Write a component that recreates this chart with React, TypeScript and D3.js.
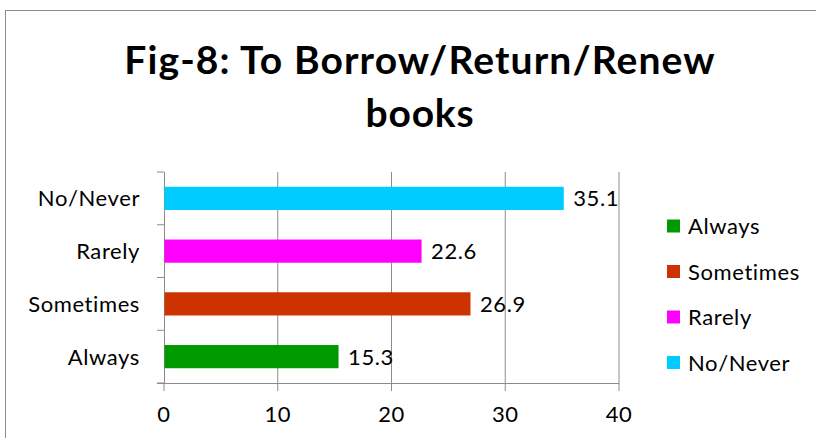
import React from "react";
import * as d3 from "d3";

const categories = ["Always", "Sometimes", "Rarely", "No/Never"];
const values = [15.3, 26.9, 22.6, 35.1];
const colors = ["#009900", "#CC3300", "#FF00FF", "#00CCFF"];
const xTicks = [0, 10, 20, 30, 40];
const titleLines = ["Fig-8: To Borrow/Return/Renew", "books"];

const W = 816;
const H = 438;
const FONT = "Lato, 'Open Sans', sans-serif";

export default function App() {
  const x = d3.scaleLinear().domain([0, 40]).range([164, 619]);
  const y = d3
    .scaleBand<string>()
    .domain([...categories].reverse())
    .range([172, 383])
    .paddingInner(0.56)
    .paddingOuter(0.28);
  const bands = d3
    .scaleBand<string>()
    .domain([...categories].reverse())
    .range([172, 383]);
  const boundaries = [172, ...categories.map((c) => (bands(c) as number) + bands.bandwidth())];
  const labelStyle = { fontVariantLigatures: "none" as const };

  return (
    <svg
      width={W}
      height={H}
      style={{ position: "absolute", left: 0, top: 0, background: "#fff" }}
      fontFamily={FONT}
    >
      <rect x={0} y={0} width={W} height={H} fill="#fff" />
      <rect x={5.5} y={10.5} width={W + 20} height={H + 20} fill="none" stroke="#8c8c8c" strokeWidth={1} />

      {titleLines.map((t, i) => (
        <text
          key={t}
          x={420}
          y={74 + i * 53}
          textAnchor="middle"
          fontSize={39}
          letterSpacing={i === 0 ? 1.1 : 0.8}
          fontWeight="bold"
          fill="#000"
        >
          {t}
        </text>
      ))}

      {/* gridlines */}
      {xTicks.slice(1).map((t) => (
        <line key={t} x1={x(t)} x2={x(t)} y1={172} y2={383} stroke="#8c8c8c" strokeWidth={1} />
      ))}
      {/* x axis */}
      <line x1={157} x2={x(40)} y1={383.5} y2={383.5} stroke="#8c8c8c" />
      {xTicks.map((t) => (
        <line key={"tk" + t} x1={x(t)} x2={x(t)} y1={383} y2={391} stroke="#8c8c8c" />
      ))}
      {xTicks.map((t) => (
        <text key={"tl" + t} x={x(t)} y={422} textAnchor="middle" fontSize={22} letterSpacing={0.5} fill="#000">
          {t}
        </text>
      ))}
      {/* y axis */}
      <line x1={164.5} x2={164.5} y1={172} y2={384} stroke="#8c8c8c" />
      {boundaries.map((b, i) => (
        <line key={"yb" + i} x1={157} x2={164} y1={b} y2={b} stroke="#8c8c8c" />
      ))}

      {/* bars */}
      {categories.map((c, i) => (
        <g key={c}>
          <rect
            x={x(0) + 0.5}
            y={y(c)}
            width={x(values[i]) - x(0)}
            height={y.bandwidth()}
            fill={colors[i]}
          />
          <text
            x={x(values[i]) + 10}
            y={(y(c) as number) + y.bandwidth() / 2 + 8}
            fontSize={22}
            letterSpacing={0.6}
            fill="#000"
          >
            {values[i]}
          </text>
          <text
            x={140}
            y={(y(c) as number) + y.bandwidth() / 2 + 8}
            textAnchor="end"
            fontSize={22}
            letterSpacing={0.6}
            style={labelStyle}
            fill="#000"
          >
            {c}
          </text>
        </g>
      ))}

      {/* legend */}
      {categories.map((c, i) => (
        <g key={"lg" + c} transform={`translate(667, ${226 + i * 45.5})`}>
          <rect x={0} y={-6.5} width={13} height={13} fill={colors[i]} />
          <text x={21} y={8} fontSize={22} letterSpacing={0.6} style={labelStyle} fill="#000">
            {c}
          </text>
        </g>
      ))}
    </svg>
  );
}
